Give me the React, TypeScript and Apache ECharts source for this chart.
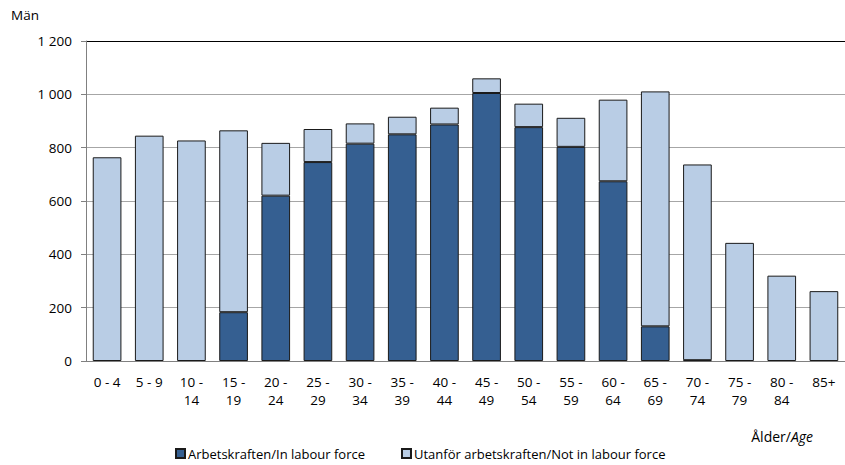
import React, { useEffect, useRef } from "react";
import * as echarts from "echarts";

const categories = ["0 - 4", "5 - 9", "10 -\n14", "15 -\n19", "20 -\n24", "25 -\n29", "30 -\n34", "35 -\n39", "40 -\n44", "45 -\n49", "50 -\n54", "55 -\n59", "60 -\n64", "65 -\n69", "70 -\n74", "75 -\n79", "80 -\n84", "85+"];
const inLabourForce = [0, 0, 0, 183, 620, 746, 815, 850, 887, 1005, 877, 803, 674, 130, 3, 0, 0, 0];
const notInLabourForce = [764, 845, 827, 682, 198, 124, 76, 66, 63, 55, 88, 109, 306, 881, 734, 443, 320, 262];
const yTicks = [0, 200, 400, 600, 800, 1000, 1200];

const FONT = "'Open Sans', sans-serif";

export default function App() {
  const ref = useRef<HTMLDivElement>(null);
  useEffect(() => {
    if (!ref.current) return;
    const chart = echarts.init(ref.current, undefined, { renderer: "svg" });
    const fmt = (v: number) => String(v).replace(/\B(?=(\d{3})+(?!\d))/g, " ");
    const nz = (arr: number[]) => arr.map((v) => (v === 0 ? null : v));
    chart.setOption({
      animation: false,
      textStyle: { fontFamily: FONT },
      grid: { left: 86, top: 41, bottom: 104, width: 763 },
      legend: {
        bottom: 0,
        left: 170,
        itemWidth: 9,
        itemHeight: 9,
        itemGap: 36,
        icon: "rect",
        textStyle: { fontFamily: FONT, fontSize: 13, color: "#000", padding: [0, 0, 0, -2] },
        data: ["Arbetskraften/In labour force", "Utanför arbetskraften/Not in labour force"],
      },
      xAxis: {
        type: "category",
        data: categories,
        axisLine: { lineStyle: { color: "#808080" } },
        axisTick: { show: false },
        axisLabel: { color: "#000", fontFamily: FONT, fontSize: 13.5, lineHeight: 18, margin: 12, interval: 0 },
      },
      yAxis: {
        type: "value",
        min: 0,
        max: 1200,
        interval: 200,
        axisLine: { show: true, lineStyle: { color: "#808080" } },
        axisTick: { show: true, length: 5, lineStyle: { color: "#808080" } },
        axisLabel: {
          color: "#000",
          fontFamily: FONT,
          fontSize: 13.5,
          margin: 14,
          formatter: (v: number) => (yTicks.includes(v) ? fmt(v) : ""),
        },
        splitLine: { show: true, lineStyle: { color: ["#a6a6a6", "#a6a6a6", "#a6a6a6", "#a6a6a6", "#a6a6a6", "#a6a6a6", "#000"], width: 1 } },
      },
      graphic: [
        { type: "text", left: 11, top: 8, style: { text: "Män", font: `13.5px ${FONT}`, fill: "#000" } },
        {
          type: "text",
          right: 32,
          top: 429,
          style: {
            text: "{a|Ålder/}{b|Age}",
            rich: {
              a: { fontFamily: FONT, fontSize: 14, fill: "#000" },
              b: { fontFamily: FONT, fontSize: 14, fontStyle: "italic", fill: "#000" },
            },
          },
        },
      ],
      series: [
        {
          name: "Arbetskraften/In labour force",
          type: "bar",
          stack: "total",
          data: nz(inLabourForce),
          barCategoryGap: "32%",
          itemStyle: { color: "#355f91", borderColor: "#1a1a1a", borderWidth: 1 },
        },
        {
          name: "Utanför arbetskraften/Not in labour force",
          type: "bar",
          stack: "total",
          data: nz(notInLabourForce),
          barCategoryGap: "32%",
          itemStyle: { color: "#b9cde5", borderColor: "#1a1a1a", borderWidth: 1 },
        },
      ],
    });
    return () => chart.dispose();
  }, []);
  return <div ref={ref} style={{ width: 845, height: 465, position: "absolute", left: 0, top: 0 }} />;
}
